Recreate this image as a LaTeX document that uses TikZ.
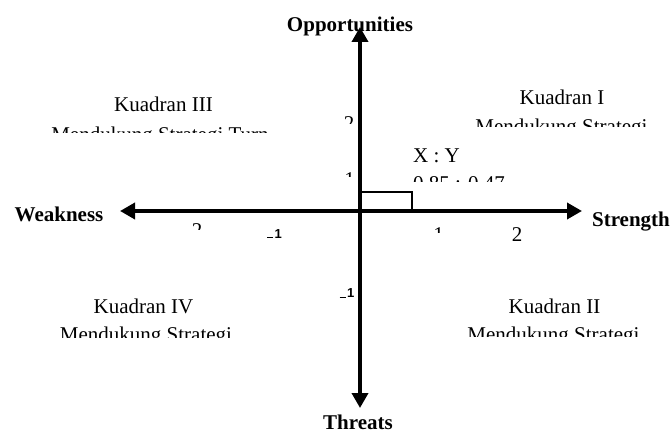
\documentclass[tikz,border=0pt]{standalone}
\usepackage{fontspec}
\setmainfont{Liberation Serif}
\newfontfamily\tickfont{Liberation Sans}
\usetikzlibrary{arrows.meta}
\tikzset{
  axisline/.style={line width=3.6pt,-{Triangle[length=15pt,width=16pt]}},
  axislabel/.style={font=\fontsize{21}{21}\selectfont\bfseries,inner sep=0pt,anchor=base},
  body/.style={font=\fontsize{21}{21}\selectfont,inner sep=0pt,anchor=base},
  tick/.style={font=\tickfont\fontsize{13}{13}\selectfont\bfseries,inner sep=0pt,anchor=base},
}
\newcommand{\negone}{\rule{6pt}{0.9pt}\hspace{1.5pt}1}
\begin{document}
\begin{tikzpicture}[x=1pt,y=-1pt]
\useasboundingbox (0,0) rectangle (670,433);
% axis endpoints
\coordinate (O) at (360,211);
\coordinate (top) at (360,27);
\coordinate (bot) at (360,408);
\coordinate (left) at (120,211);
\coordinate (right) at (582,211);
% axis labels
\node[axislabel] (opp) at (350,32) {Opportunities};
\node[axislabel] (thr) at (358,429) {Threats};
\node[axislabel] (weak) at (59,222) {Weakness};
\node[axislabel] (str) at (631,226) {Strength};
% axes
\draw[axisline] (O) -- (top);
\draw[axisline] (O) -- (bot);
\draw[axisline] (O) -- (left);
\draw[axisline] (O) -- (right);
% point box
\draw[line width=1.2pt] (O) rectangle (412,192);
% tick labels
\node[body] (tr2) at (517,242) {2};
\begin{scope}
  \clip (180,0) rectangle (215,230);
  \node[body] (tl2) at (197,237) {2};
\end{scope}
\begin{scope}
  \clip (425,0) rectangle (455,233);
  \node[body] (tr1) at (438.5,242) {1};
\end{scope}
\begin{scope}
  \clip (335,0) rectangle (358,124);
  \node[body] (tu2) at (349,131) {2};
\end{scope}
\begin{scope}
  \clip (335,160) rectangle (358,177);
  \node[body] (tu1) at (349.5,186) {1};
\end{scope}
\node[tick] (tlm1) at (274.5,238) {\negone};
\node[tick] (tdm1) at (347,298) {\negone};
% quadrant texts
\node[body] (q3) at (163.5,112) {Kuadran III};
\begin{scope}
  \clip (0,0) rectangle (290,133);
  \node[body] (q3b) at (160,141.5) {Mendukung Strategi Turn};
\end{scope}
\node[body] (q1) at (562,105) {Kuadran I};
\begin{scope}
  \clip (440,0) rectangle (670,127);
  \node[body] (q1b) at (561.5,133.5) {Mendukung Strategi};
\end{scope}
\node[body,anchor=base west] (xy) at (413,163) {X : Y};
\begin{scope}
  \clip (400,165) rectangle (560,182);
  \node[body,anchor=base west] (xyv) at (413,191) {0,85 : 0,47};
\end{scope}
\node[body] (q4) at (143.5,313) {Kuadran IV};
\begin{scope}
  \clip (0,300) rectangle (300,337);
  \node[body] (q4b) at (146,341.5) {Mendukung Strategi};
\end{scope}
\node[body] (q2) at (554.5,313) {Kuadran II};
\begin{scope}
  \clip (420,300) rectangle (670,336);
  \node[body] (q2b) at (553.5,341.5) {Mendukung Strategi};
\end{scope}
\end{tikzpicture}
\end{document}
